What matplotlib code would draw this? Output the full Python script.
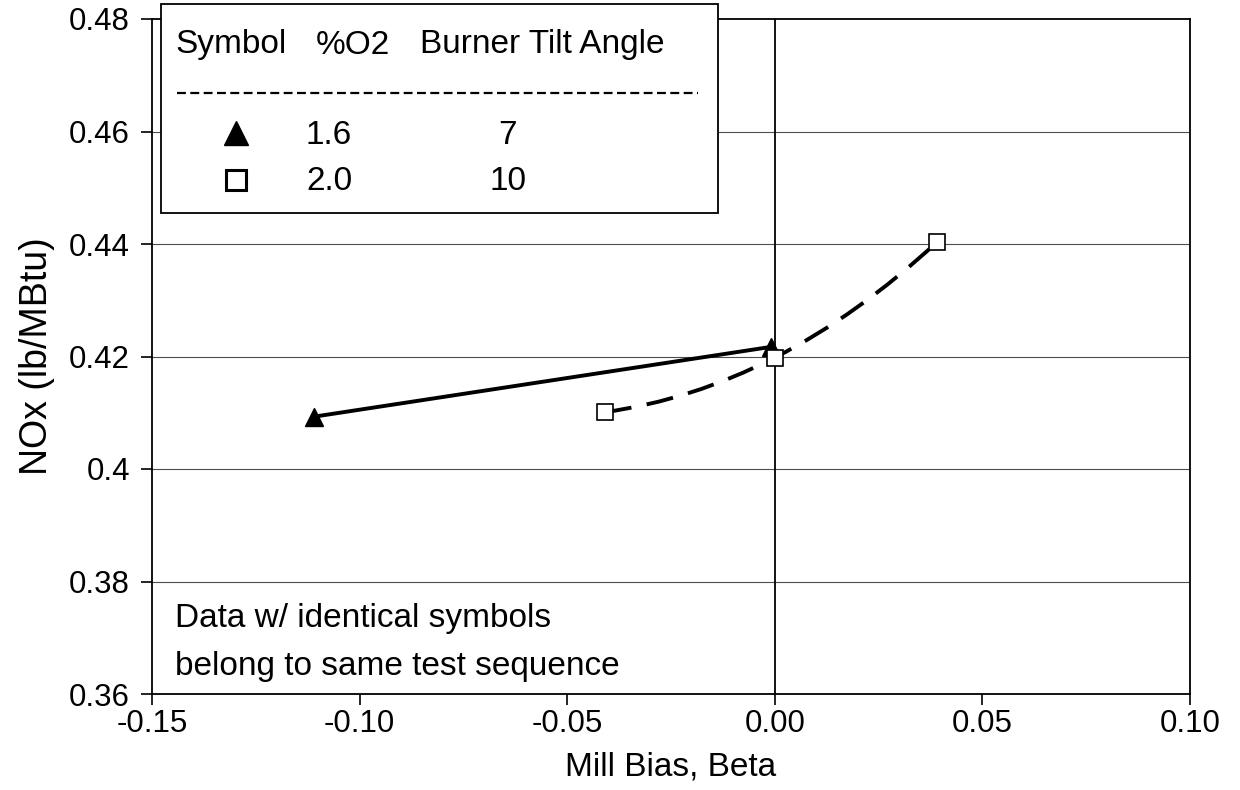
import matplotlib
matplotlib.use("Agg")
import matplotlib.pyplot as plt
from matplotlib.path import Path
from matplotlib.patches import PathPatch, Rectangle
from matplotlib.lines import Line2D
import numpy as np

plt.rcParams['font.family'] = ['Liberation Sans', 'DejaVu Sans']

# ---- data ----
tri_x = [-0.111, -0.001]
tri_y = [0.4093, 0.4217]
sq_x = [-0.041, 0.000, 0.039]
sq_y = [0.4101, 0.4198, 0.4403]

x_ticks = [-0.15, -0.10, -0.05, 0.00, 0.05, 0.10]
x_ticklabels = ["-0.15", "-0.10", "-0.05", "0.00", "0.05", "0.10"]
y_ticks = [0.36, 0.38, 0.40, 0.42, 0.44, 0.46, 0.48]
y_ticklabels = ["0.36", "0.38", "0.4", "0.42", "0.44", "0.46", "0.48"]

legend_header = ["Symbol", "%O2", "Burner Tilt Angle"]
legend_o2 = ["1.6", "2.0"]
legend_tilt = ["7", "10"]
note_lines = ["Data w/ identical symbols", "belong to same test sequence"]

FS_TICK = 22.5
FS = 24

fig = plt.figure(figsize=(12.4, 7.9), dpi=100)
ax = fig.add_axes([152/1240, 1 - 694/790, (1190-152)/1240, (694-19)/790])

ax.set_xlim(-0.15, 0.10)
ax.set_ylim(0.36, 0.48)

# grid lines
for yv in y_ticks[1:-1]:
    ax.axhline(yv, color='0.3', lw=0.8, zorder=1)
ax.axvline(0.0, color='black', lw=1.3, zorder=1)

# triangle series (solid)
ax.plot(tri_x, tri_y, color='black', lw=2.8, zorder=3)
ax.plot(tri_x, tri_y, linestyle='none', marker='^', markersize=13,
        markerfacecolor='black', markeredgecolor='black', zorder=4)

# square series: smooth dashed curve passing through the middle point
p0 = np.array([sq_x[0], sq_y[0]])
p1 = np.array([sq_x[1], sq_y[1]])
p2 = np.array([sq_x[2], sq_y[2]])
ctrl = 2 * p1 - (p0 + p2) / 2
curve = Path([p0, ctrl, p2], [Path.MOVETO, Path.CURVE3, Path.CURVE3])
ax.add_patch(PathPatch(curve, facecolor='none', edgecolor='black', lw=2.8,
                       linestyle=(0, (7, 4)), zorder=3))
ax.plot(sq_x, sq_y, linestyle='none', marker='s', markersize=12,
        markerfacecolor='white', markeredgecolor='black', markeredgewidth=1.2, zorder=5)

# ticks
ax.set_xticks(x_ticks)
ax.set_xticklabels(x_ticklabels, fontsize=FS_TICK)
ax.set_yticks(y_ticks)
ax.set_yticklabels(y_ticklabels, fontsize=FS_TICK)
ax.tick_params(direction='out', length=8, width=1.2)
ax.tick_params(axis='y', pad=8)
ax.tick_params(axis='x', pad=3)
for s in ax.spines.values():
    s.set_linewidth(1.3)

ax.set_xlabel("Mill Bias, Beta", fontsize=FS, labelpad=9)
ax.set_ylabel("NOx (lb/MBtu)", fontsize=27, labelpad=10)

# note text
for i, line in enumerate(note_lines):
    ax.text(175/1240, 1 - (619 + 48*i)/790, line, transform=fig.transFigure,
            fontsize=FS, ha='left', va='center', zorder=6)

# ---- manual legend box (extends above axes) ----
def fx(px):
    return px / 1240
def fy(py):
    return 1 - py / 790

box = Rectangle((fx(161), fy(213)), fx(718) - fx(161), fy(4) - fy(213),
                transform=fig.transFigure, facecolor='white', edgecolor='black',
                lw=1.3, zorder=10)
fig.add_artist(box)
hdr_x = [175, 316, 420]
for hx, h in zip(hdr_x, legend_header):
    fig.text(fx(hx), fy(45), h, fontsize=FS, ha='left', va='center', zorder=11)
fig.add_artist(Line2D([fx(177), fx(698)], [fy(93), fy(93)], transform=fig.transFigure,
                      color='black', lw=1.6, linestyle=(0, (4, 2)), zorder=11))
row_y = [135, 182]
tilt_x = [498, 490]
row_markers = [dict(marker='^', markersize=17, markerfacecolor='black', markeredgecolor='black'),
               dict(marker='s', markersize=14, markerfacecolor='white', markeredgecolor='black',
                    markeredgewidth=2.2)]
for ry, mk, o2, tilt, tx in zip(row_y, row_markers, legend_o2, legend_tilt, tilt_x):
    fig.add_artist(Line2D([fx(236)], [fy(ry - 2)], transform=fig.transFigure,
                          linestyle='none', zorder=11, **mk))
    fig.text(fx(306), fy(ry), o2, fontsize=FS, ha='left', va='center', zorder=11)
    fig.text(fx(tx), fy(ry), tilt, fontsize=FS, ha='left', va='center', zorder=11)

fig.savefig("out.png", dpi=100)
